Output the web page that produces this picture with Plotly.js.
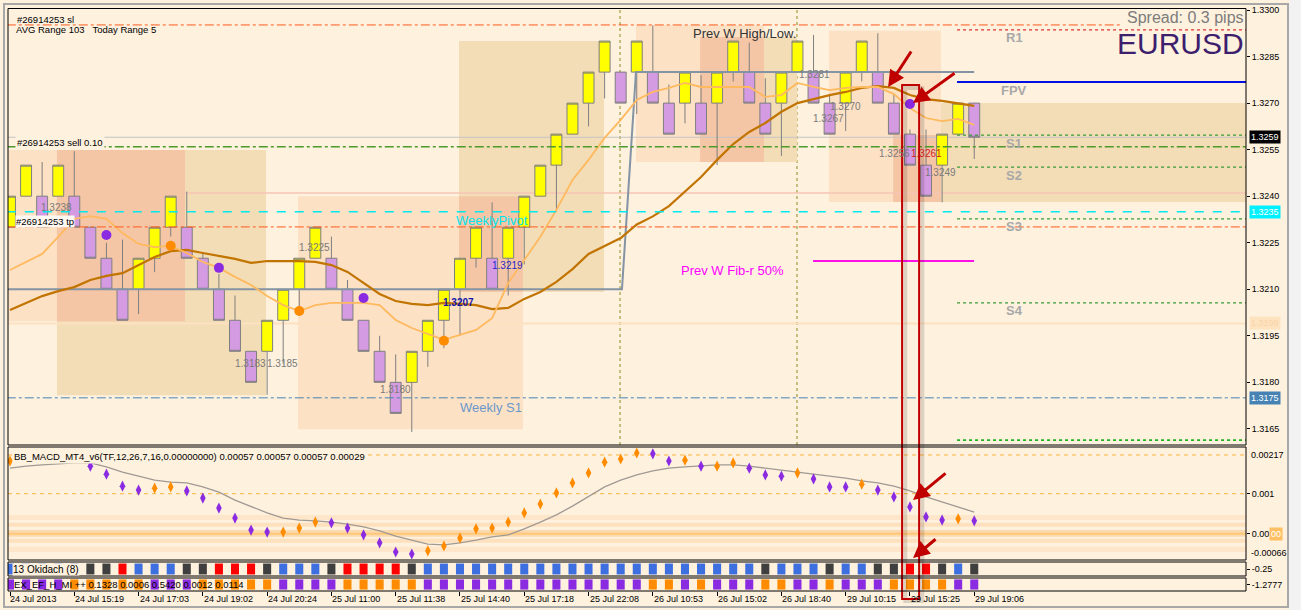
<!DOCTYPE html>
<html><head><meta charset="utf-8">
<script src="https://cdn.plot.ly/plotly-3.0.1.min.js"></script>
<style>html,body{margin:0;padding:0;background:#FEF1DE;}#chart{width:1301px;height:610px;}</style>
</head><body><div id="chart"></div>
<script>
// ---------------- DATA ----------------
const tickBars   = [0,4,8,12,16,20,24,28,32,36,40,44,48,52,56,60];
const tickLabels = ['24 Jul 2013','24 Jul 15:19','24 Jul 17:03','24 Jul 19:02','24 Jul 20:24','25 Jul 11:00','25 Jul 11:38','25 Jul 14:40','25 Jul 17:18','25 Jul 22:08','26 Jul 10:53','26 Jul 15:02','26 Jul 18:40','29 Jul 10:15','29 Jul 15:25','29 Jul 19:06'];
const priceTicks = [1.3165,1.3180,1.3195,1.3210,1.3225,1.3240,1.3255,1.3270,1.3285,1.3300];

// Renko bricks (10 pip)
const brickOpen = [1.3230,1.3240,1.3240,1.3240,1.3240,1.3230,1.3220,1.3210,1.3210,1.3220,
  1.3230,1.3230,1.3220,1.3210,1.3200,1.3190,1.3190,1.3200,1.3210,1.3220,
  1.3220,1.3210,1.3200,1.3190,1.3180,1.3180,1.3190,1.3200,1.3210,1.3220,
  1.3220,1.3220,1.3230,1.3240,1.3250,1.3260,1.3270,1.3280,1.3280,1.3280,
  1.3280,1.3270,1.3270,1.3270,1.3270,1.3280,1.3280,1.3270,1.3270,1.3280,
  1.3280,1.3270,1.3270,1.3280,1.3280,1.3270,1.3260,1.3250,1.3250,1.3260,1.3270];
const brickClose = [1.3240,1.3250,1.3230,1.3250,1.3230,1.3220,1.3210,1.3200,1.3220,1.3230,
  1.3240,1.3220,1.3210,1.3200,1.3190,1.3180,1.3200,1.3210,1.3220,1.3230,
  1.3210,1.3200,1.3190,1.3180,1.3170,1.3190,1.3200,1.3210,1.3220,1.3230,
  1.3210,1.3230,1.3240,1.3250,1.3260,1.3270,1.3280,1.3290,1.3270,1.3290,
  1.3270,1.3260,1.3280,1.3260,1.3280,1.3290,1.3270,1.3260,1.3280,1.3290,
  1.3270,1.3260,1.3280,1.3290,1.3270,1.3260,1.3250,1.3240,1.3260,1.3270,1.3259];
const brickHigh = [1.3240,1.3250,1.3251,1.3250,1.32545,1.3230,1.3225,1.3226,1.3220,1.3230,
  1.3240,1.32415,1.3222,1.3215,1.3208,1.3190,1.3200,1.3210,1.3220,1.3230,
  1.3227,1.3213,1.3200,1.3195,1.3189,1.3190,1.3200,1.3210,1.3220,1.3230,
  1.3238,1.3230,1.3240,1.3250,1.3260,1.3270,1.3280,1.3290,1.3280,1.3290,
  1.3295,1.3276,1.3280,1.3279,1.3280,1.3290,1.32895,1.3278,1.3280,1.3290,
  1.3292,1.3273,1.3280,1.3290,1.32925,1.3273,1.32615,1.32615,1.3260,1.3270,1.3270];
const brickLow = [1.3230,1.3240,1.3230,1.3240,1.3230,1.3220,1.3210,1.3200,1.3202,1.32155,
  1.3227,1.3220,1.3210,1.3200,1.3190,1.3180,1.3176,1.3186,1.3204,1.3220,
  1.3210,1.3200,1.3190,1.3180,1.3170,1.3164,1.3185,1.3191,1.3195,1.3217,
  1.3210,1.3208,1.3218,1.3240,1.3235,1.3260,1.32625,1.32715,1.3270,1.32665,
  1.3270,1.3260,1.32635,1.3260,1.3250,1.3277,1.3270,1.3260,1.3253,1.3280,
  1.3270,1.3260,1.3261,1.3277,1.3270,1.3260,1.3250,1.3240,1.3238,1.3260,1.3252];

const fastMA = [1.32162,1.32188,1.32214,1.32269,1.32327,1.32336,1.32327,1.32281,1.32246,1.32236,
  1.32240,1.32217,1.32188,1.32169,1.32140,1.32114,1.32078,1.32049,1.32030,1.32049,
  1.32056,1.32056,1.32056,1.32049,1.32001,1.31975,1.31956,1.31937,1.31953,1.31969,
  1.32007,1.32120,1.32194,1.32269,1.32356,1.32452,1.32517,1.32588,1.32646,1.32710,
  1.32736,1.32749,1.32765,1.32752,1.32752,1.32752,1.32752,1.32720,1.32726,1.32765,
  1.32752,1.32742,1.32749,1.32752,1.32752,1.32729,1.32684,1.32652,1.32642,1.32649,1.32630];
const slowMA = [1.32033,1.32056,1.32078,1.32094,1.32107,1.32130,1.32143,1.32152,1.32178,1.32204,
  1.32223,1.32227,1.32217,1.32207,1.32198,1.32185,1.32191,1.32191,1.32191,1.32188,
  1.32178,1.32156,1.32120,1.32085,1.32062,1.32053,1.32049,1.32056,1.32053,1.32049,
  1.32036,1.32040,1.32069,1.32091,1.32124,1.32165,1.32214,1.32240,1.32265,1.32309,
  1.32335,1.32368,1.32414,1.32462,1.32517,1.32568,1.32607,1.32636,1.32672,1.32700,
  1.32713,1.32726,1.32736,1.32749,1.32755,1.32749,1.32726,1.32713,1.32707,1.32700,1.32691];

const dotUpBars = [10,18,27];
const dotUpPrices = [1.32240,1.32030,1.31934];
const dotDownBars = [6,13,22,56];
const dotDownPrices = [1.32275,1.32169,1.32072,1.32697];

const prevWeekX = [-0.2,38.08,38.95,60];
const prevWeekY = [1.3210,1.3210,1.3280,1.3280];

const macdValues = [0.00182,null,null,null,null,0.00169,0.00149,0.00119,0.00109,0.00114,
  0.00117,0.00107,0.00089,0.00064,0.00039,0.00009,0.00004,0.00004,0.00014,0.00029,
  0.00027,0.00014,-0.00003,-0.00023,-0.00046,-0.00051,-0.00043,-0.00031,-0.00011,0.00012,
  0.00014,0.00029,0.00052,0.00074,0.00102,0.00127,0.00152,0.00179,0.00187,0.00202,
  0.00200,0.00182,0.00184,0.00169,0.00169,0.00177,0.00164,0.00147,0.00144,0.00152,
  0.00137,0.00117,0.00117,0.00124,0.00109,0.00092,0.00067,0.00042,0.00034,0.00037,0.00032];
const macdSide = ['O','P','P','P','P','P','P','P','P','O','O','P','P','P','P','P','P','O','O','O',
  'P','P','P','P','P','P','O','O','O','O','O','O','O','O','O','O','O','O','O','O',
  'P','P','O','P','O','O','P','P','P','O','P','P','P','O','P','P','P','P','P','O','P'];
const macdSignal = [0.00164,0.00169,0.00172,0.00174,0.00177,0.00177,0.00167,0.00154,0.00144,0.00134,
  0.00129,0.00127,0.00117,0.00104,0.00084,0.00067,0.00052,0.00039,0.00034,0.00032,
  0.00029,0.00024,0.00017,0.00007,-0.00006,-0.00016,-0.00026,-0.00028,-0.00023,-0.00016,
  -0.00008,-0.00003,0.00012,0.00029,0.00047,0.00069,0.00094,0.00117,0.00134,0.00147,
  0.00157,0.00164,0.00167,0.00169,0.00172,0.00172,0.00169,0.00164,0.00159,0.00154,
  0.00149,0.00144,0.00139,0.00132,0.00127,0.00119,0.00107,0.00092,0.00079,0.00067,0.00054];

const okidachState = ['B','B','B','B','B','K','K','R','B','B','B','K','K','R','R','R','K','B','B','B',
  'K','R','R','R','R','K','B','B','B','B','B','B','B','B','B','B','B','B','B','B',
  'B','B','B','B','B','B','B','K','B','B','B','K','B','B','K','K','R','R','K','B','K'];
const exState = ['P','P','P','P','O','O','O','O','O','P','P','P','O','O','O','O','O','P','P','P',
  'P','O','O','O','O','O','P','P','P','P','P','P','P','P','P','P','P','P','P','P',
  'O','O','P','O','P','P','P','O','O','P','P','O','P','P','P','O','O','O','O','P','P'];

const pivotNames  = ['R1','FPV','S1','S2','S3','S4'];
const pivotPrices = [1.32936,1.32768,1.32597,1.32494,1.32327,1.32056];

const tagTexts  = ['1.3238','1.3225','1.3183','1.3185','1.3180','1.3219','1.3207','1.3281','1.3270','1.3267','1.3256','1.3261','1.3249'];
const tagBars   = [2.92,18.92,14.95,16.95,23.96,30.93,27.88,50.03,51.96,50.96,55.05,57.0,57.93];
const tagPrices = [1.32365,1.32233,1.31862,1.31862,1.31778,1.32175,1.32056,1.32791,1.32688,1.32652,1.32539,1.32539,1.32475];

// ---------------- LAYOUT HELPERS ----------------
const W=1301,H=610,M={l:8,r:55,t:8,b:19};
const px=x=>(x-M.l)/(W-M.l-M.r);
const py=y=>1-(y-M.t)/(H-M.t-M.b);
const bars = brickOpen.map((_,i)=>i);
const FONT='Liberation Sans, Arial, sans-serif';
const XR=[-0.1245,76.91];

const colMacd={O:'#FF8C00',P:'#8A2BE2'};
const colOki={B:'#3D6FE0',K:'#3F3F3F',R:'#FF0000'};
const colEx={O:'#FF8C00',P:'#8A2BE2'};

const traces=[
 {type:'candlestick',x:bars,open:brickOpen,high:brickHigh,low:brickLow,close:brickClose,
  increasing:{line:{color:'#7F7F7F',width:1},fillcolor:'#FFFF00'},
  decreasing:{line:{color:'#7F7F7F',width:1},fillcolor:'#D59BE2'},
  whiskerwidth:0,hoverinfo:'skip',xaxis:'x',yaxis:'y'},
 {type:'scatter',mode:'lines',x:prevWeekX,y:prevWeekY,line:{color:'#8494A4',width:2},xaxis:'x',yaxis:'y',hoverinfo:'skip'},
 {type:'scatter',mode:'lines',x:bars,y:slowMA,line:{color:'#C27400',width:2.2},xaxis:'x',yaxis:'y',hoverinfo:'skip'},
 {type:'scatter',mode:'lines',x:bars,y:fastMA,line:{color:'#FFB95E',width:1.8},xaxis:'x',yaxis:'y',hoverinfo:'skip'},
 {type:'scatter',mode:'markers',x:dotUpBars,y:dotUpPrices,marker:{color:'#FF8C00',size:10},xaxis:'x',yaxis:'y',hoverinfo:'skip'},
 {type:'scatter',mode:'markers',x:dotDownBars,y:dotDownPrices,marker:{color:'#8A2BE2',size:10},xaxis:'x',yaxis:'y',hoverinfo:'skip'},
 {type:'scatter',mode:'lines',x:bars,y:macdSignal,line:{color:'#A09A94',width:1.3},xaxis:'x',yaxis:'y2',hoverinfo:'skip'},
 {type:'scatter',mode:'markers',x:bars,y:macdValues,marker:{symbol:'diamond-tall',size:8,color:macdSide.map(s=>colMacd[s])},xaxis:'x',yaxis:'y2',hoverinfo:'skip'},
 {type:'bar',x:bars,y:bars.map(()=>0.78),base:0.11,width:0.5,marker:{color:okidachState.map(s=>colOki[s])},xaxis:'x',yaxis:'y3',hoverinfo:'skip'},
 {type:'bar',x:bars,y:bars.map(()=>0.78),base:0.11,width:0.5,marker:{color:exState.map(s=>colEx[s])},xaxis:'x',yaxis:'y4',hoverinfo:'skip'}
];

// ---------------- SHAPES ----------------
const shapes=[];
const zone=(x0,x1,y0,y1,c)=>shapes.push({type:'rect',xref:'x',yref:'y',x0,x1,y0,y1,fillcolor:c,line:{width:0},layer:'below'});
const PEACH='#FCE1C5',TAN='#F3DDB6',SALMON='#F5C6A6';
zone(-0.2,10.89,1.31997,1.32549,PEACH);
zone(17.92,31.92,1.31649,1.32400,PEACH);
zone(38.95,46.92,1.32510,1.32952,PEACH);
zone(50.96,57.93,1.32381,1.32933,PEACH);
zone(2.92,15.93,1.31758,1.32549,TAN);
zone(27.94,36.96,1.32091,1.32900,TAN);
zone(42.94,48.97,1.32510,1.32913,TAN);
zone(57.93,80,1.32381,1.32700,TAN);
zone(2.92,10.89,1.31997,1.32549,SALMON);
zone(27.94,31.92,1.32091,1.32400,SALMON);
zone(42.94,46.92,1.32510,1.32913,SALMON);
zone(54.95,57.93,1.32381,1.32597,SALMON);

const hl=(p,x0,x1,color,dash,width,layer)=>shapes.push({type:'line',xref:'x',yref:'y',x0,x1,y0:p,y1:p,line:{color,dash,width},layer:layer||'above'});
hl(1.3241,10.9,80,'#F6C4B4','solid',1.5,'below');
hl(1.3199,-0.2,80,'#FDE2C2','solid',2,'below');
hl(1.3259,-0.2,80,'#C4C4C4','solid',1,'below');
// period separators
[37.96,48.97].forEach(x=>shapes.push({type:'line',xref:'x',yref:'paper',x0:x,x1:x,y0:py(445),y1:py(9),line:{color:'#8A8A20',dash:'dot',width:1},layer:'below'}));
hl(1.32952,-0.2,69.1,'#FF5A1E','dashdot',1);
hl(1.32559,-0.2,80,'#4C9A2A','dashdot',1.5);
hl(1.3235,-0.2,80,'#00E8F0','dash',1.5);
hl(1.32301,-0.2,80,'#FF5A1E','dashdot',1);
hl(1.3175,-0.2,80,'#4682B4','dashdot',1);
hl(pivotPrices[0],58.93,80,'#E03030','dot',1.3);
hl(pivotPrices[1],58.93,80,'#0010E0','solid',2);
[2,3,4,5].forEach(k=>hl(pivotPrices[k],58.93,80,'#3A9A3A','dot',1.3));
hl(1.31614,58.93,80,'#22B022','dot',1.8);
hl(1.32191,49.97,59.99,'#FF10E8','solid',2);

// MACD bands & levels
const band=(a,b,c)=>shapes.push({type:'rect',xref:'paper',yref:'y2',x0:0,x1:1,y0:a,y1:b,fillcolor:c,line:{width:0},layer:'below'});
band(0.00034,0.00047,'#FDE6CA');band(0.00017,0.00027,'#FDE0BE');band(-0.00008,0.00009,'#FCD9AE');
band(-0.00023,-0.00013,'#FDE0BE');band(-0.00046,-0.00033,'#FDE6CA');
shapes.push({type:'line',xref:'paper',yref:'y2',x0:0,x1:1,y0:0,y1:0,line:{color:'#FFC878',width:2},layer:'below'});
[0.00197,0.001].forEach(v=>shapes.push({type:'line',xref:'paper',yref:'y2',x0:0,x1:1,y0:v,y1:v,line:{color:'#FFB43C',dash:'4px,4px',width:1},layer:'below'}));

// red marker box with shadow
shapes.push({type:'rect',xref:'x',yref:'paper',x0:55.51+0.2,x1:56.57+0.2,y0:py(601),y1:py(88),line:{color:'rgba(0,0,0,0.13)',width:4},layer:'above'});
shapes.push({type:'rect',xref:'x',yref:'paper',x0:55.51,x1:56.57,y0:py(599),y1:py(85),line:{color:'#C00000',width:2},layer:'above'});

// panel borders
[[py(445),py(8.5)],[py(560),py(447)],[py(576),py(562)],[py(591),py(578)]].forEach(([a,b])=>
 shapes.push({type:'rect',xref:'paper',yref:'paper',x0:0,x1:1,y0:a,y1:b,line:{color:'#000',width:1},layer:'above'}));
// outer frame
shapes.push({type:'rect',xref:'paper',yref:'paper',x0:px(1289),x1:px(1302),y0:py(611),y1:py(-1),fillcolor:'#F2F2F2',line:{width:0},layer:'above'});
shapes.push({type:'rect',xref:'paper',yref:'paper',x0:px(4),x1:px(1288),y0:py(607),y1:py(4),line:{color:'#A8A8A8',width:2},layer:'above'});

// ---------------- ANNOTATIONS ----------------
const ann=[];
const t=(o)=>ann.push(Object.assign({showarrow:false,font:{family:FONT,size:9.5,color:'#000'}},o));
// x labels
tickBars.forEach((b,k)=>t({x:b,y:py(599),xref:'x',yref:'paper',text:tickLabels[k],xanchor:'left',yanchor:'middle',xshift:k===0?-2:-1,font:{family:FONT,size:9,color:'#000'}}));
// top-left info
t({x:px(15),y:py(19),xref:'paper',yref:'paper',text:'#26914253 sl',xanchor:'left',yanchor:'middle'});
t({x:px(14),y:py(30),xref:'paper',yref:'paper',text:'AVG Range 103\u00a0\u00a0\u00a0Today Range 5',xanchor:'left',yanchor:'middle'});
t({x:px(15),y:py(142),xref:'paper',yref:'paper',text:'#26914253 sell 0.10',xanchor:'left',yanchor:'middle',bgcolor:'#FEF1DE',borderpad:1});
t({x:px(15),y:py(221),xref:'paper',yref:'paper',text:'#26914253 tp',xanchor:'left',yanchor:'middle',bgcolor:'#FFF9F2',borderpad:0});
t({x:1,y:py(18),xref:'paper',yref:'paper',text:'Spread: 0.3 pips',xanchor:'right',yanchor:'middle',font:{family:FONT,size:16,color:'#7C7C7C'}});
t({x:1,y:py(44),xref:'paper',yref:'paper',text:'EURUSD',xanchor:'right',yanchor:'middle',font:{family:FONT,size:30,color:'#3D1F6E'}});
// chart object labels
t({x:45.68,y:1.32923,xref:'x',yref:'y',text:'Prev W High/Low.',font:{family:FONT,size:13,color:'#333'}});
t({x:44.93,y:1.32162,xref:'x',yref:'y',text:'Prev W Fib-r 50%',font:{family:FONT,size:13,color:'#FF00FF'}});
t({x:29.99,y:1.32323,xref:'x',yref:'y',text:'WeeklyPivot',font:{family:FONT,size:13,color:'#00E5EE'}});
t({x:29.93,y:1.31720,xref:'x',yref:'y',text:'Weekly S1',font:{family:FONT,size:13,color:'#6A98CC'}});
pivotNames.forEach((n,k)=>t({x:62.48,y:pivotPrices[k]-0.00026,xref:'x',yref:'y',text:'<b>'+n+'</b>',font:{family:FONT,size:13,color:'#A8A8A8'}}));
tagTexts.forEach((s,k)=>{
  let col='#7A7A7A', txt=s;
  if(s==='1.3219') col='#2828C8';
  if(s==='1.3207'){col='#1414A8'; txt='<b>'+s+'</b>';}
  if(s==='1.3261') col='#D02020';
  t({x:tagBars[k],y:tagPrices[k],xref:'x',yref:'y',text:txt,font:{family:FONT,size:10,color:col}});
});
// right axis price tags
const tag=(p,text,bg,fc,yref)=>t({x:1,y:p,xref:'paper',yref:yref||'y',text,xanchor:'left',yanchor:'middle',xshift:3,bgcolor:bg,borderpad:1,font:{family:FONT,size:9,color:fc}});
tag(1.3259,'1.3259','#000000','#FFFFFF');
tag(1.3235,'1.3235','#00F0FF','#FFFFFF');
tag(1.3175,'1.3175','#4682B4','#FFFFFF');
tag(1.3199,'1.3199','#FDE3C0','#F9D3A8');
// MACD panel texts
t({x:px(12),y:py(456),xref:'paper',yref:'paper',text:'BB_MACD_MT4_v6(TF,12,26,7,16,0.00000000) 0.00057 0.00057 0.00057 0.00029',xanchor:'left',yanchor:'middle',bgcolor:'#FEF1DE',borderpad:1});
t({x:1,y:py(455),xref:'paper',yref:'paper',text:'0.00217',xanchor:'left',yanchor:'middle',xshift:3,font:{family:FONT,size:9,color:'#000'}});
t({x:1,y:py(553),xref:'paper',yref:'paper',text:'-0.00066',xanchor:'left',yanchor:'middle',xshift:3,font:{family:FONT,size:9,color:'#000'}});
t({x:px(1269),y:0,xref:'paper',yref:'y2',text:'00',xanchor:'left',yanchor:'middle',bgcolor:'#FFC064',borderpad:1,font:{family:FONT,size:9,color:'#FFFFFF'}});
t({x:px(12),y:py(569),xref:'paper',yref:'paper',text:'13 Okidach (8)',xanchor:'left',yanchor:'middle',bgcolor:'#FEF1DE',borderpad:0,font:{family:FONT,size:10,color:'#000'}});
t({x:px(12),y:py(584),xref:'paper',yref:'paper',text:'EX_EF_H_MI ++ 0.1328 0.0006 0.5420 0.0012 0.0114',xanchor:'left',yanchor:'middle',font:{family:FONT,size:9.5,color:'#000'}});
// arrows
const arrow=(x,y,yref,ax,ay)=>ann.push({x,y,xref:'x',yref,ax,ay,showarrow:true,arrowhead:2,arrowsize:1.1,arrowwidth:3,arrowcolor:'#C00000',text:''});
arrow(54.64,1.32752,'y',24,-37);
arrow(56.19,1.32700,'y',43,-31);
arrow(56.19,0.00084,'y2',34,-28);
arrow(56.19,-0.00061,'y2',24,-20);

// ---------------- LAYOUT ----------------
const axY=(o)=>Object.assign({side:'right',showgrid:false,zeroline:false,ticks:'outside',ticklen:3,tickcolor:'#000',
  tickfont:{family:FONT,size:9,color:'#000'},fixedrange:true,showline:false},o);
const layout={
  width:W,height:H,margin:M,paper_bgcolor:'#FEF1DE',plot_bgcolor:'#FEF1DE',showlegend:false,hovermode:false,
  boxgap:0.32,boxgroupgap:0,barmode:'overlay',
  xaxis:{range:XR,anchor:'y4',showgrid:false,zeroline:false,showticklabels:false,ticks:'outside',ticklen:4,tickcolor:'#000',
    tickvals:tickBars,rangeslider:{visible:false},fixedrange:true},
  yaxis:axY({domain:[py(445),py(8.5)],range:[1.31598,1.33005],anchor:'x',tickvals:priceTicks,ticktext:priceTicks.map(v=>v.toFixed(4))}),
  yaxis2:axY({domain:[py(560),py(447)],range:[-0.00066,0.00217],anchor:'x',tickvals:[0.001,0],ticktext:['0.001','0.00']}),
  yaxis3:axY({domain:[py(576),py(562)],range:[0,1],anchor:'x',tickvals:[0.5],ticktext:['-0.25']}),
  yaxis4:axY({domain:[py(591),py(578)],range:[0,1],anchor:'x',tickvals:[0.5],ticktext:['-1.2777']}),
  shapes,annotations:ann
};
Plotly.newPlot('chart',traces,layout,{staticPlot:true,displayModeBar:false});
</script></body></html>
